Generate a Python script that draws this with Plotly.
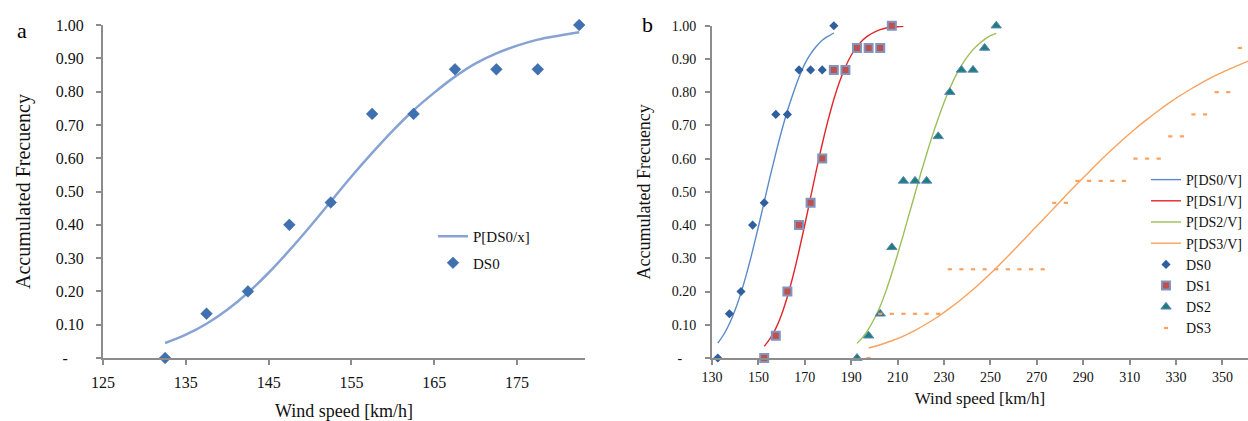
import plotly.graph_objects as go

# ---------------- data ----------------
# observed accumulated frequencies
ds0_speed = [132.5, 137.5, 142.5, 147.5, 152.5, 157.5, 162.5, 167.5, 172.5, 177.5, 182.5]
ds0_freq = [0.0, 0.133, 0.2, 0.4, 0.467, 0.733, 0.733, 0.867, 0.867, 0.867, 1.0]

ds1_speed = [152.5, 157.5, 162.5, 167.5, 172.5, 177.5, 182.5, 187.5, 192.5, 197.5, 202.5, 207.5]
ds1_freq = [0.0, 0.067, 0.2, 0.4, 0.467, 0.6, 0.867, 0.867, 0.933, 0.933, 0.933, 1.0]

ds2_speed = [192.5, 197.5, 202.5, 207.5, 212.5, 217.5, 222.5, 227.5, 232.5, 237.5, 242.5, 247.5, 252.5]
ds2_freq = [0.0, 0.067, 0.133, 0.333, 0.533, 0.533, 0.533, 0.667, 0.8, 0.867, 0.867, 0.933, 1.0]

ds3_speed = [197.5, 202.5, 207.5, 212.5, 217.5, 222.5, 227.5, 232.5, 237.5, 242.5, 247.5,
             252.5, 257.5, 262.5, 267.5, 272.5, 277.5, 282.5, 287.5, 292.5, 297.5, 302.5,
             307.5, 312.5, 317.5, 322.5, 327.5, 332.5, 337.5, 342.5, 347.5, 352.5, 357.5]
ds3_freq = [0.0, 0.133, 0.133, 0.133, 0.133, 0.133, 0.133, 0.267, 0.267, 0.267, 0.267,
            0.267, 0.267, 0.267, 0.267, 0.267, 0.467, 0.467, 0.533, 0.533, 0.533, 0.533,
            0.533, 0.6, 0.6, 0.6, 0.667, 0.667, 0.733, 0.733, 0.8, 0.8, 0.933]

# fitted fragility curves
p0_speed = [132.5, 135, 137.5, 140, 142.5, 145, 147.5, 150, 152.5, 155, 157.5, 160, 162.5,
            165, 167.5, 170, 172.5, 175, 177.5, 180, 182.5]
p0_prob = [0.045, 0.070, 0.103, 0.145, 0.196, 0.256, 0.323, 0.395, 0.470, 0.545, 0.616, 0.683,
           0.744, 0.797, 0.845, 0.885, 0.915, 0.938, 0.956, 0.968, 0.978]

p1_speed = [152.5, 155, 157.5, 160, 162.5, 165, 167.5, 170, 172.5, 175, 177.5, 180, 182.5,
            185, 187.5, 190, 192.5, 195, 197.5, 200, 202.5, 205, 207.5, 210, 212.5]
p1_prob = [0.035, 0.058, 0.089, 0.131, 0.185, 0.249, 0.322, 0.401, 0.484, 0.566, 0.644, 0.715,
           0.778, 0.832, 0.876, 0.911, 0.937, 0.957, 0.971, 0.981, 0.988, 0.993, 0.995, 0.997, 0.998]

p2_speed = [192.5, 195, 197.5, 200, 202.5, 205, 207.5, 210, 212.5, 215, 217.5, 220, 222.5,
            225, 227.5, 230, 232.5, 235, 237.5, 240, 242.5, 245, 247.5, 250, 252.5]
p2_prob = [0.044, 0.063, 0.088, 0.119, 0.156, 0.202, 0.255, 0.312, 0.372, 0.434, 0.495, 0.556,
           0.614, 0.670, 0.721, 0.769, 0.811, 0.849, 0.880, 0.906, 0.928, 0.945, 0.959, 0.970, 0.977]

p3_speed = [197.5, 202.5, 207.5, 212.5, 217.5, 222.5, 227.5, 232.5, 237.5, 242.5, 247.5, 252.5,
            257.5, 262.5, 267.5, 272.5, 277.5, 282.5, 287.5, 292.5, 297.5, 302.5, 307.5, 312.5,
            317.5, 322.5, 327.5, 332.5, 337.5, 342.5, 347.5, 352.5, 357.5, 362.5]
p3_prob = [0.030, 0.040, 0.052, 0.066, 0.083, 0.103, 0.125, 0.150, 0.177, 0.206, 0.238, 0.271,
           0.306, 0.342, 0.379, 0.415, 0.452, 0.489, 0.525, 0.560, 0.595, 0.628, 0.660, 0.690,
           0.718, 0.745, 0.770, 0.793, 0.814, 0.834, 0.852, 0.868, 0.883, 0.897]

y_ticks = [0, 0.1, 0.2, 0.3, 0.4, 0.5, 0.6, 0.7, 0.8, 0.9, 1.0]
y_ticktext = ["-\u00a0\u00a0\u00a0\u00a0", "0.10", "0.20", "0.30", "0.40", "0.50", "0.60", "0.70",
              "0.80", "0.90", "1.00"]
xa_ticks = [125, 135, 145, 155, 165, 175]
xb_ticks = [130, 150, 170, 190, 210, 230, 250, 270, 290, 310, 330, 350]

FONT = "Times New Roman"
AXC = "#8C8C8C"


def F(size, color="#111111"):
    return dict(family=FONT, size=size, color=color)


fig = go.Figure()

# ---------------- panel a ----------------
fig.add_trace(go.Scatter(x=p0_speed, y=p0_prob, mode="lines", name="P[DS0/x]",
                         line=dict(color="#86A3D4", width=2.5, shape="spline"),
                         xaxis="x", yaxis="y", legend="legend", legendgroup="a1"))
fig.add_trace(go.Scatter(x=ds0_speed, y=ds0_freq, mode="markers", name="DS0",
                         marker=dict(symbol="diamond", size=9, color="#3F70B0",
                                     line=dict(color="#2F5E9C", width=0.5)),
                         cliponaxis=False, xaxis="x", yaxis="y", legend="legend", legendgroup="a2"))

# ---------------- panel b ----------------
line_specs = [("P[DS0/V]", p0_speed, p0_prob, "#5A8AC8"),
              ("P[DS1/V]", p1_speed, p1_prob, "#E0262A"),
              ("P[DS2/V]", p2_speed, p2_prob, "#9BC05A"),
              ("P[DS3/V]", p3_speed, p3_prob, "#F9A25E")]
for name, xs, ys, col in line_specs:
    fig.add_trace(go.Scatter(x=xs, y=ys, mode="lines", name=name,
                             line=dict(color=col, width=1.4, shape="spline"),
                             xaxis="x2", yaxis="y2", legend="legend2"))

fig.add_trace(go.Scatter(x=ds0_speed, y=ds0_freq, mode="markers", name="DS0",
                         marker=dict(symbol="diamond", size=7, color="#2F5F9E"),
                         cliponaxis=False, xaxis="x2", yaxis="y2", legend="legend2"))
fig.add_trace(go.Scatter(x=ds1_speed, y=ds1_freq, mode="markers", name="DS1",
                         marker=dict(symbol="square", size=8, color="#C0504D",
                                     line=dict(color="#8096BE", width=2)),
                         cliponaxis=False, xaxis="x2", yaxis="y2", legend="legend2"))
fig.add_trace(go.Scatter(x=ds2_speed, y=ds2_freq, mode="markers", name="DS2",
                         marker=dict(symbol="triangle-up", size=9, color="#1F7F78",
                                     line=dict(color="#5B86C0", width=1)),
                         cliponaxis=False, xaxis="x2", yaxis="y2", legend="legend2"))
fig.add_trace(go.Scatter(x=ds3_speed, y=ds3_freq, mode="markers", name="DS3",
                         marker=dict(symbol="line-ew", size=3,
                                     line=dict(color="#F9A25E", width=2.2)),
                         cliponaxis=False, xaxis="x2", yaxis="y2", legend="legend2"))

axis_common = dict(showgrid=False, zeroline=False, showline=True, linecolor=AXC, linewidth=2,
                   ticks="outside", tickcolor=AXC, ticklen=5, tickwidth=1.5, automargin=False)

fig.update_layout(
    template="none",
    width=1248, height=421,
    margin=dict(l=0, r=0, t=0, b=0),
    paper_bgcolor="white", plot_bgcolor="white",
    font=F(14),
    showlegend=True,
    xaxis=dict(domain=[103 / 1248, 585 / 1248], range=[125, 183.2], tickvals=xa_ticks,
               tickfont=F(16), anchor="y", ticklabelstandoff=4,
               title=dict(text="Wind speed [km/h]", font=F(18), standoff=14),
               **axis_common),
    yaxis=dict(domain=[1 - 358 / 421, 1 - 25 / 421], range=[0, 1], tickvals=y_ticks,
               ticktext=y_ticktext, tickfont=F(16), anchor="x", ticklabelstandoff=9,
               title=dict(text="Accumulated Frecuency", font=F(20), standoff=20),
               **axis_common),
    xaxis2=dict(domain=[712 / 1248, 1.0], range=[130, 361], tickvals=xb_ticks,
                tickfont=F(14), anchor="y2",
                title=dict(text="Wind speed [km/h]", font=F(17), standoff=8),
                **axis_common),
    yaxis2=dict(domain=[1 - 358 / 421, 1 - 25.7 / 421], range=[0, 1], tickvals=y_ticks,
                ticktext=y_ticktext, tickfont=F(14), anchor="x2", ticklabelstandoff=6,
                title=dict(text="Accumulated Frecuency", font=F(18), standoff=16),
                **axis_common),
    legend=dict(x=433 / 1248, y=1 - 220 / 421, xanchor="left", yanchor="top",
                bgcolor="rgba(0,0,0,0)", font=F(15), traceorder="grouped",
                itemwidth=30, tracegroupgap=4),
    legend2=dict(x=1146 / 1248, y=1 - 164 / 421, xanchor="left", yanchor="top",
                 bgcolor="rgba(0,0,0,0)", font=F(14), traceorder="normal",
                 itemwidth=30, tracegroupgap=0),
    annotations=[
        dict(text="a", x=22 / 1248, y=1 - 30 / 421, xref="paper", yref="paper",
             showarrow=False, font=F(22, "black"), xanchor="center", yanchor="middle"),
        dict(text="b", x=647 / 1248, y=1 - 25 / 421, xref="paper", yref="paper",
             showarrow=False, font=F(22, "black"), xanchor="center", yanchor="middle"),
    ],
)

fig.write_html("out.html", config={"displayModeBar": False},
               post_script="document.body.style.margin='0';document.body.style.overflow='hidden';")
